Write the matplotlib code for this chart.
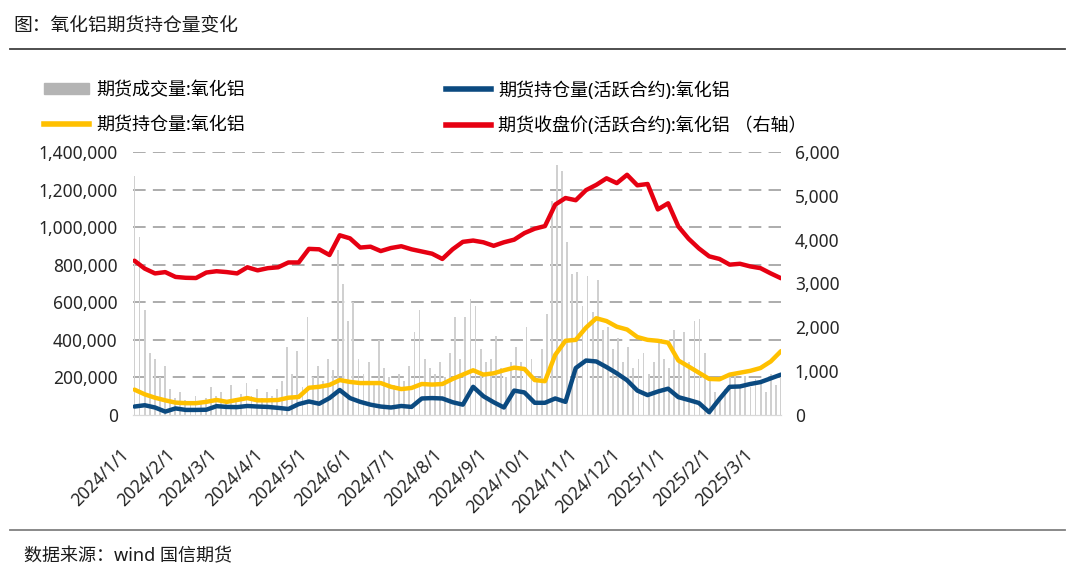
import matplotlib
matplotlib.use('Agg')
import matplotlib.pyplot as plt
import matplotlib.dates as mdates
from matplotlib.patches import Patch
from matplotlib.lines import Line2D
from matplotlib.ticker import FuncFormatter
import numpy as np
import pandas as pd

plt.rcParams['font.family'] = ['Noto Sans', 'Noto Sans CJK SC', 'DejaVu Sans']

# weekly readings (Tuesdays from 2024/1/2 to 2025/3/18)
oi_total = [135000, 110000, 92000, 78000, 66000, 63000, 63000, 70000, 80000, 70000,
            80000, 90000, 78000, 78000, 80000, 92000, 96000, 145000, 150000, 160000,
            186000, 176000, 170000, 170000, 170000, 150000, 138000, 144000, 165000, 162000,
            165000, 192000, 215000, 238000, 215000, 222000, 238000, 252000, 245000, 186000,
            180000, 320000, 395000, 400000, 465000, 515000, 500000, 470000, 455000, 415000,
            400000, 395000, 385000, 290000, 258000, 225000, 192000, 190000, 215000, 225000,
            235000, 250000, 285000, 340000]
oi_active = [45000, 52000, 40000, 18000, 35000, 27000, 27000, 28000, 47000, 43000,
             42000, 48000, 45000, 43000, 38000, 32000, 58000, 72000, 60000, 90000,
             133000, 90000, 70000, 55000, 45000, 40000, 48000, 43000, 88000, 90000,
             88000, 68000, 55000, 150000, 100000, 68000, 40000, 130000, 120000, 65000,
             65000, 88000, 70000, 250000, 290000, 285000, 255000, 222000, 185000, 130000,
             106000, 125000, 140000, 95000, 80000, 64000, 15000, 85000, 150000, 152000,
             165000, 175000, 195000, 215000]
close_active = [3520, 3340, 3230, 3260, 3150, 3130, 3125, 3250, 3280, 3260,
                3230, 3370, 3300, 3350, 3370, 3480, 3480, 3790, 3780, 3650,
                4100, 4030, 3820, 3840, 3740, 3810, 3850, 3780, 3730, 3680,
                3560, 3780, 3950, 3980, 3940, 3860, 3940, 4000, 4150, 4250,
                4310, 4800, 4950, 4900, 5130, 5250, 5400, 5290, 5480, 5240,
                5270, 4690, 4830, 4300, 4020, 3800, 3620, 3560, 3430, 3450,
                3390, 3350, 3230, 3120]

# futures volume, 万手, roughly every other trading day
volume = [127, 95, 56, 33, 30, 20, 26, 14, 9, 12,
          8, 6, 10, 7, 9, 15, 10, 12, 8, 16,
          9, 11, 17, 10, 14, 9, 12, 10, 14, 18,
          36, 22, 34, 15, 52, 20, 26, 18, 30, 24,
          88, 70, 50, 60, 30, 22, 28, 18, 40, 25,
          20, 16, 22, 18, 26, 44, 56, 30, 25, 22,
          28, 20, 33, 52, 30, 52, 62, 58, 35, 28,
          30, 42, 25, 20, 28, 36, 28, 47, 30, 20,
          35, 54, 114, 133, 130, 92, 75, 76, 58, 74,
          55, 72, 45, 47, 35, 41, 28, 36, 25, 30,
          33, 22, 28, 40, 30, 25, 45, 30, 44, 28,
          50, 51, 33, 18, 12, 8, 14, 20, 22, 16,
          21, 15, 19, 18, 12, 22, 16, 20]

line_dates = pd.date_range('2024-01-02', periods=len(oi_total), freq='7D')
vol_dates = pd.date_range('2024-01-02', '2025-03-18', periods=len(volume))

fig = plt.figure(figsize=(10.8, 5.7), dpi=100)
ax = fig.add_axes([133 / 1080, 1 - 415 / 570, (781 - 133) / 1080, (415 - 152) / 570])
ax2 = ax.twinx()

ax.bar(vol_dates, np.array(volume) * 10000, width=1.2, color='#d0d0d0', linewidth=0, zorder=1)
ax.plot(line_dates, oi_total, color='#ffc000', lw=3.2, zorder=3, solid_capstyle='round')
ax.plot(line_dates, oi_active, color='#0b4a80', lw=3.2, zorder=3, solid_capstyle='round')
ax2.plot(line_dates, close_active, color='#e60012', lw=3.2, zorder=3, solid_capstyle='round')

# left axis
ax.set_ylim(0, 1400000)
ax.set_yticks(np.arange(0, 1400001, 200000))
ax.yaxis.set_major_formatter(FuncFormatter(lambda v, p: f'{v:,.0f}'))
for yv in np.arange(200000, 1400001, 200000):
    ax.axhline(yv, color='#a6a6a6', lw=1.3, ls=(0, (7, 4)), zorder=0)

# right axis
ax2.set_ylim(0, 6000)
ax2.set_yticks(np.arange(0, 6001, 1000))
ax2.yaxis.set_major_formatter(FuncFormatter(lambda v, p: f'{v:,.0f}'))

ax.set_xlim(pd.Timestamp('2024-01-01'), pd.Timestamp('2025-03-18'))
ax.xaxis.set_major_locator(mdates.MonthLocator())
ax.xaxis.set_major_formatter(FuncFormatter(
    lambda v, p: f'{mdates.num2date(v).year}/{mdates.num2date(v).month}/{mdates.num2date(v).day}'))

for a in (ax, ax2):
    for s in ('top', 'left', 'right'):
        a.spines[s].set_visible(False)
    a.spines['bottom'].set_color('#d9d9d9')
    a.tick_params(length=0, labelsize=12.5, colors='#262626')
ax.tick_params(axis='y', pad=11)
ax2.tick_params(axis='y', pad=10)
ax.tick_params(axis='x', pad=22)
plt.setp(ax.get_xticklabels(), rotation=45, ha='right', va='top')

# legend
leg1 = fig.legend(
    [Patch(color='#b4b4b4'), Line2D([], [], color='#ffc000', lw=4)],
    ['期货成交量:氧化铝', '期货持仓量:氧化铝'],
    loc='upper left', bbox_to_anchor=(44 / 1080, 1 - 81 / 570),
    frameon=False, fontsize=13, handlelength=2.5, handleheight=0.6,
    handletextpad=0.4, labelspacing=0.95, borderpad=0, borderaxespad=0)
leg2 = fig.legend(
    [Line2D([], [], color='#0b4a80', lw=4), Line2D([], [], color='#e60012', lw=4)],
    ['期货持仓量(活跃合约):氧化铝', '期货收盘价(活跃合约):氧化铝 （右轴）'],
    loc='upper left', bbox_to_anchor=(446 / 1080, 1 - 81 / 570),
    frameon=False, fontsize=13, handlelength=2.5,
    handletextpad=0.4, labelspacing=0.95, borderpad=0, borderaxespad=0)

# title, source and rules
fig.text(13 / 1080, 1 - 25 / 570, '图：氧化铝期货持仓量变化', fontsize=13.5, va='center', color='#1a1a1a')
fig.add_artist(Line2D([10 / 1080, 1065 / 1080], [1 - 49 / 570] * 2, color='#404040', lw=1.3))
fig.add_artist(Line2D([10 / 1080, 1065 / 1080], [1 - 530 / 570] * 2, color='#808080', lw=1.3))
fig.text(24 / 1080, 1 - 556 / 570, '数据来源：wind 国信期货', fontsize=13, va='center', color='#1a1a1a')

plt.savefig('out.png', dpi=100)
plt.close()
